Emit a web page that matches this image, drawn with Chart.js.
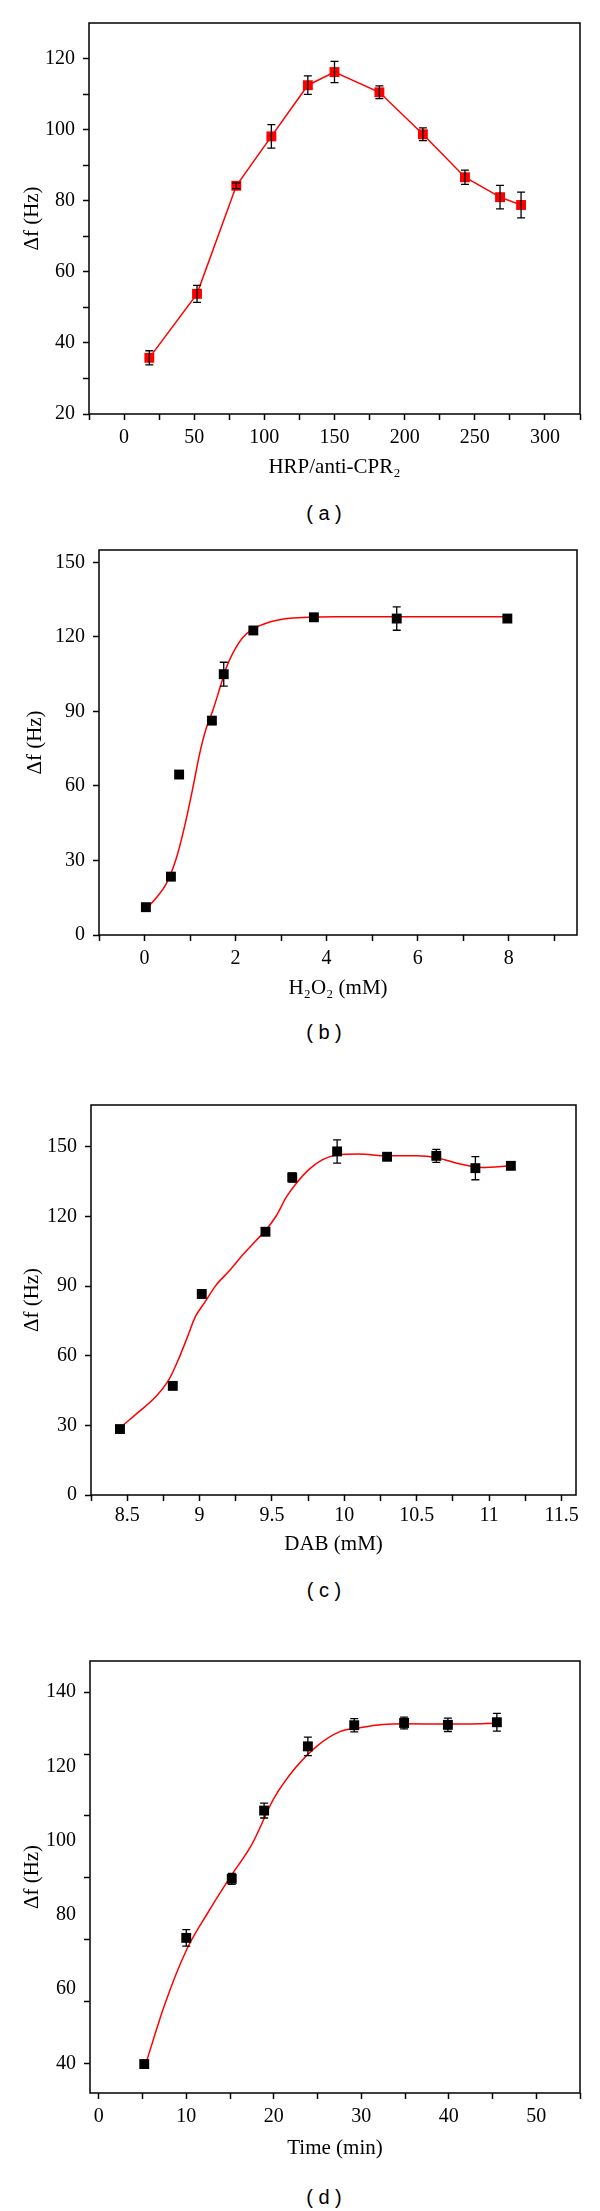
<!DOCTYPE html>
<html>
<head>
<meta charset="utf-8">
<script src="https://cdn.jsdelivr.net/npm/chart.js@4.4.1/dist/chart.umd.min.js"></script>
<style>
html,body{margin:0;padding:0;background:#fff;}
body{width:600px;height:2211px;position:relative;overflow:hidden;}
canvas{position:absolute;left:0;}
.cap{position:absolute;left:274px;width:100px;text-align:center;font-family:'Liberation Sans',Arial,sans-serif;font-size:20px;line-height:24px;color:#000;}
</style>
</head>
<body>
<canvas id="ca" width="600" height="490" style="top:0px"></canvas>
<div class="cap" style="top:501px">( a )</div>
<canvas id="cb" width="600" height="490" style="top:520px"></canvas>
<div class="cap" style="top:1020px">( b )</div>
<canvas id="cc" width="600" height="490" style="top:1080px"></canvas>
<div class="cap" style="top:1578px">( c )</div>
<canvas id="cd" width="600" height="530" style="top:1640px"></canvas>
<div class="cap" style="top:2185px">( d )</div>
<script>
// ---------- Panel (a): HRP/anti-CPR2 ----------
const aX   = [18, 52, 80, 105, 131, 150, 182, 213, 243, 268, 283];
const aY   = [35.8, 53.8, 84.2, 98.1, 112.5, 116.2, 110.5, 98.7, 86.6, 81.0, 78.8];
const aErr = [2.0, 2.4, 0.8, 3.3, 2.6, 3.0, 1.8, 1.8, 2.0, 3.3, 3.6];
const aXLabels = [0, 50, 100, 150, 200, 250, 300];
const aXMinor  = [-25, 25, 75, 125, 175, 225, 275, 325];
const aYLabels = [20, 40, 60, 80, 100, 120];
const aYMinor  = [30, 50, 70, 90, 110];

// ---------- Panel (b): H2O2 ----------
const bX   = [0.03, 0.58, 0.76, 1.48, 1.74, 2.39, 3.72, 5.54, 7.97];
const bY   = [11.2, 23.5, 64.6, 86.3, 105.0, 122.6, 127.9, 127.4, 127.4];
const bErr = [1.0, 0.5, 0.5, 0.5, 4.8, 1.0, 1.2, 4.7, 1.2];
const bFitX = [0.03, 0.25, 0.47, 0.69, 0.87, 1.06, 1.21, 1.35, 1.5, 1.65, 1.79, 1.94, 2.16, 2.38, 2.75, 3.19, 3.71, 4.22, 5.5, 8.0];
const bFitY = [10.4, 14.8, 20.4, 30.4, 42.9, 59.1, 72.9, 82.9, 90.4, 99.1, 107.3, 113.5, 119.8, 123.1, 126.0, 127.5, 128.0, 128.1, 128.1, 128.1];
const bXLabels = [0, 2, 4, 6, 8];
const bXMinor  = [-1, 1, 3, 5, 7, 9];
const bYLabels = [0, 30, 60, 90, 120, 150];

// ---------- Panel (c): DAB ----------
const cX   = [8.45, 8.815, 9.015, 9.455, 9.64, 9.95, 10.295, 10.635, 10.905, 11.15];
const cY   = [28.4, 47.0, 86.6, 113.4, 136.8, 148.0, 145.7, 146.1, 140.8, 141.8];
const cErr = [0.8, 1.0, 1.0, 1.0, 2.0, 5.0, 1.5, 2.8, 5.0, 1.5];
const cFitX = [8.478, 8.58, 8.70, 8.79, 8.86, 8.92, 8.97, 9.04, 9.11, 9.21, 9.30, 9.39, 9.46, 9.53, 9.60, 9.67, 9.76, 9.85, 9.95, 10.1, 10.3, 10.5, 10.65, 10.8, 10.95, 11.15];
const cFitY = [30.4, 35.8, 42.5, 49.9, 59.3, 68.7, 76.7, 83.4, 90.1, 96.9, 103.6, 109.6, 114.3, 120.3, 128.4, 134.4, 140.5, 144.5, 146.5, 146.9, 146.1, 146.1, 145.1, 142.6, 141.1, 141.8];
const cXLabels = [8.5, 9, 9.5, 10, 10.5, 11, 11.5];
const cXMinor  = [8.25, 8.75, 9.25, 9.75, 10.25, 10.75, 11.25];
const cYLabels = [0, 30, 60, 90, 120, 150];

// ---------- Panel (d): Time ----------
const dX   = [5.2, 10.0, 15.2, 18.9, 23.9, 29.2, 34.9, 39.9, 45.5];
const dY   = [39.8, 73.8, 89.7, 108.1, 125.4, 131.1, 131.7, 131.2, 131.9];
const dErr = [0.8, 2.2, 1.5, 2.0, 2.5, 1.8, 1.6, 1.8, 2.4];
const dFitX = [5.5, 7.5, 10, 12.5, 15, 17.5, 20, 22.5, 25, 27.5, 30, 32.5, 35, 40, 45.5];
const dFitY = [40.8, 55.6, 70.4, 80.7, 90.1, 99.0, 111.3, 119.7, 125.6, 129.3, 130.5, 131.3, 131.5, 131.4, 131.6];
const dXLabels = [0, 10, 20, 30, 40, 50];
const dXMinor  = [5, 15, 25, 35, 45, 55];
const dYLabels = [40, 60, 80, 100, 120, 140];
const dYMarks  = [40, 56.7, 73.3, 90, 106.7, 123.3, 140];

// ---------- helpers ----------
const SERIF = "'Liberation Serif','Times New Roman',serif";
const TICK_SIZE = 20, TITLE_SIZE = 21, LH = 1.2;
const pts = (xs, ys) => xs.map((x, i) => ({x: x, y: ys[i]}));

const framePlugin = {
  id: 'frame',
  afterDatasetsDraw(chart) {
    const {ctx, chartArea: a} = chart;
    ctx.save();
    ctx.strokeStyle = '#000';
    ctx.lineWidth = 1.5;
    ctx.strokeRect(a.left, a.top, a.right - a.left, a.bottom - a.top);
    ctx.restore();
  }
};

const errPlugin = {
  id: 'errbars',
  afterDatasetsDraw(chart) {
    const {ctx} = chart;
    const xs = chart.scales.x, ys = chart.scales.y;
    chart.data.datasets.forEach(ds => {
      if (!ds.errors) return;
      ctx.save();
      ctx.strokeStyle = '#000';
      ctx.lineWidth = 1.3;
      ds.data.forEach((p, j) => {
        const e = ds.errors[j];
        if (!e) return;
        const px = xs.getPixelForValue(p.x);
        const y1 = ys.getPixelForValue(p.y + e);
        const y2 = ys.getPixelForValue(p.y - e);
        ctx.beginPath();
        ctx.moveTo(px, y1); ctx.lineTo(px, y2);
        ctx.moveTo(px - 4, y1); ctx.lineTo(px + 4, y1);
        ctx.moveTo(px - 4, y2); ctx.lineTo(px + 4, y2);
        ctx.stroke();
      });
      ctx.restore();
    });
  }
};

function axis(isX, ax, P) {
  const all = Array.from(new Set(ax.labels.concat(ax.marks))).sort((p, q) => p - q);
  const tLH = TITLE_SIZE * LH;
  return {
    type: 'linear',
    position: isX ? 'bottom' : 'left',
    min: ax.min, max: ax.max,
    afterBuildTicks: s => { s.ticks = all.map(v => ({value: v})); },
    afterFit: s => {
      if (isX) s.height = P.height - (P.plot.b - P.top);
      else s.width = P.plot.l;
    },
    border: {display: false},
    grid: {
      display: true, drawOnChartArea: false, drawTicks: true,
      tickLength: 6, tickWidth: 1.5,
      tickColor: c => (c.tick && ax.marks.includes(c.tick.value)) ? '#000' : 'rgba(0,0,0,0)'
    },
    ticks: {
      autoSkip: false, maxRotation: 0, minRotation: 0,
      padding: isX ? P.xPad : 8,
      color: '#000',
      font: {family: SERIF, size: TICK_SIZE, lineHeight: LH},
      callback: v => ax.labels.includes(v) ? String(v) : ''
    },
    title: {
      display: true, text: ax.title, color: '#000',
      font: {family: SERIF, size: TITLE_SIZE, lineHeight: LH},
      padding: isX ? {top: 0, bottom: P.height - (P.xTitleY - P.top) - tLH / 2}
                   : {top: P.yTitleX - tLH / 2, bottom: 0}
    }
  };
}

function build(id, P, datasets) {
  return new Chart(document.getElementById(id), {
    type: 'scatter',
    data: {datasets: datasets},
    options: {
      responsive: false, animation: false, devicePixelRatio: 1, events: [],
      layout: {padding: {left: 0, right: 600 - P.plot.r, top: P.plot.t - P.top, bottom: 0}},
      plugins: {legend: {display: false}, tooltip: {enabled: false}},
      scales: {x: axis(true, P.x, P), y: axis(false, P.y, P)}
    },
    plugins: [errPlugin, framePlugin]
  });
}

function pointSet(xs, ys, errs, color) {
  return {data: pts(xs, ys), errors: errs, showLine: false, pointStyle: 'rect', pointRadius: 7,
          backgroundColor: color, borderColor: color, borderWidth: 0, order: 0};
}
function fitSet(xs, ys) {
  return {data: pts(xs, ys), showLine: true, pointRadius: 0, borderColor: '#ff0000', borderWidth: 1.5,
          cubicInterpolationMode: 'monotone', fill: false, order: 1};
}

// (a)
build('ca', {
  top: 0, height: 490, plot: {l: 89, t: 23, r: 580, b: 414}, xTitleY: 467, yTitleX: 32, xPad: 6,
  x: {min: -25, max: 325, labels: aXLabels, marks: aXLabels.concat(aXMinor), title: 'HRP/anti-CPR\u2082'},
  y: {min: 20, max: 130, labels: aYLabels, marks: aYLabels.concat(aYMinor), title: '\u0394f (Hz)'}
}, [
  {data: pts(aX, aY), errors: aErr, showLine: true, tension: 0, borderColor: '#ff0000', borderWidth: 1.5,
   pointStyle: 'rect', pointRadius: 7, backgroundColor: '#ff0000', pointBackgroundColor: '#ff0000',
   pointBorderColor: '#ff0000', pointBorderWidth: 0}
]);

// (b)
build('cb', {
  top: 520, height: 490, plot: {l: 99, t: 550, r: 577, b: 935}, xTitleY: 988, yTitleX: 35, xPad: 6,
  x: {min: -1, max: 9.5, labels: bXLabels, marks: bXLabels.concat(bXMinor), title: 'H\u2082O\u2082 (mM)'},
  y: {min: 0, max: 155, labels: bYLabels, marks: bYLabels, title: '\u0394f (Hz)'}
}, [pointSet(bX, bY, bErr, '#000'), fitSet(bFitX, bFitY)]);

// (c)
build('cc', {
  top: 1080, height: 490, plot: {l: 91, t: 1105, r: 576, b: 1495}, xTitleY: 1544, yTitleX: 32, xPad: 3,
  x: {min: 8.25, max: 11.6, labels: cXLabels, marks: cXLabels.concat(cXMinor), title: 'DAB (mM)'},
  y: {min: 0, max: 168, labels: cYLabels, marks: cYLabels, title: '\u0394f (Hz)'}
}, [pointSet(cX, cY, cErr, '#000'), fitSet(cFitX, cFitY)]);

// (d)
build('cd', {
  top: 1640, height: 530, plot: {l: 90, t: 1661, r: 580, b: 2093}, xTitleY: 2148, yTitleX: 32, xPad: 6,
  x: {min: -1, max: 55, labels: dXLabels, marks: dXLabels.concat(dXMinor), title: 'Time (min)'},
  y: {min: 32, max: 148.4, labels: dYLabels, marks: dYMarks, title: '\u0394f (Hz)'}
}, [pointSet(dX, dY, dErr, '#000'), fitSet(dFitX, dFitY)]);
</script>
</body>
</html>
